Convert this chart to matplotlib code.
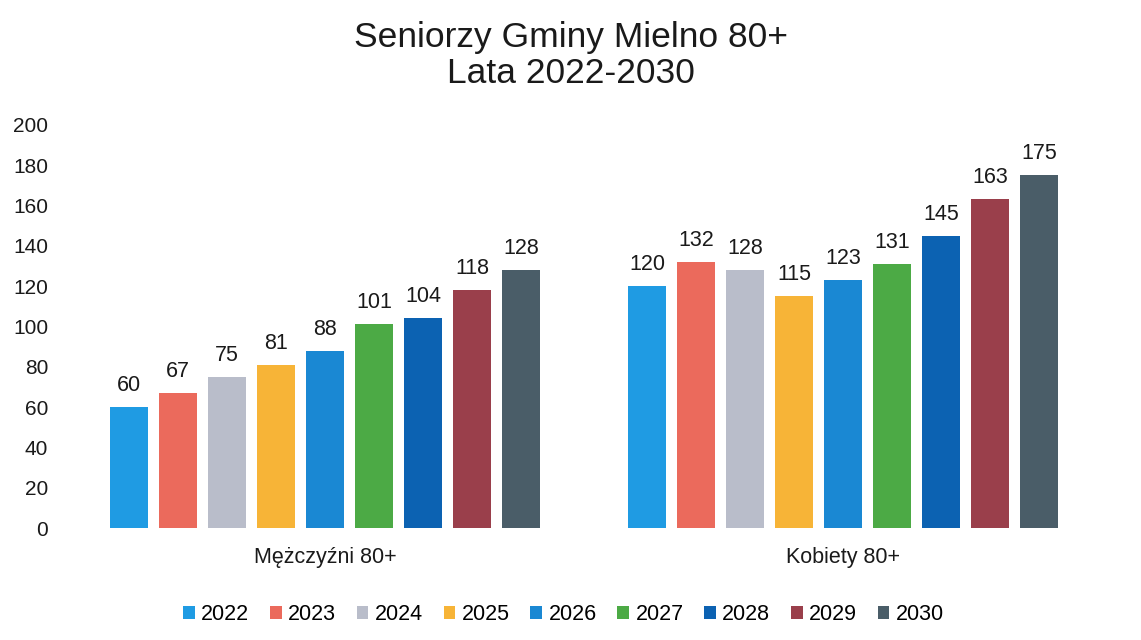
import numpy as np
import matplotlib
matplotlib.use("Agg")
from matplotlib import pyplot as plt

plt.rcParams['font.family'] = ['Liberation Sans', 'DejaVu Sans']

# data
groups = ['Mężczyźni 80+', 'Kobiety 80+']
years = ['2022', '2023', '2024', '2025', '2026', '2027', '2028', '2029', '2030']
men = [60, 67, 75, 81, 88, 101, 104, 118, 128]
women = [120, 132, 128, 115, 123, 131, 145, 163, 175]
colors = ['#1f9be3', '#eb6a5c', '#b9bdca', '#f7b437', '#1a88d3',
          '#4caa45', '#0c62b2', '#9a3f4b', '#4a5d68']

fig = plt.figure(figsize=(11.41, 6.4), dpi=100)
ax = fig.add_axes([0.058, 0.175, 0.908, 0.63])

x = np.arange(len(groups))
slot = 0.0946
width = slot * 0.78
for i, yr in enumerate(years):
    vals = [men[i], women[i]]
    pos = x + (i - 4) * slot
    bars = ax.bar(pos, vals, width, color=colors[i], label=yr)
    for b, v in zip(bars, vals):
        ax.text(b.get_x() + b.get_width() / 2, v + 5.5, str(v),
                ha='center', va='bottom', fontsize=15.5, color='#1a1a1a')

ax.set_xlim(-0.5, 1.5)
ax.set_ylim(0, 200)
ax.set_yticks(range(0, 201, 20))
ax.set_xticks(x)
ax.set_xticklabels(groups, fontsize=15.5)
ax.tick_params(axis='y', labelsize=15, length=0, pad=13, colors='#1a1a1a')
ax.tick_params(axis='x', length=0, pad=14, colors='#1a1a1a')
for s in ax.spines.values():
    s.set_visible(False)

fig.text(0.5, 0.942, 'Seniorzy Gminy Mielno 80+', ha='center', va='center',
         fontsize=25.5, color='#1a1a1a')
fig.text(0.5, 0.885, 'Lata 2022-2030', ha='center', va='center',
         fontsize=25.5, color='#1a1a1a')

ax.legend(loc='center', bbox_to_anchor=(0.48, -0.215), ncol=9, frameon=False,
          fontsize=15.5, handlelength=0.55, handleheight=0.55, handletextpad=0.3,
          columnspacing=0.95)

fig.savefig('out.png', dpi=100)
